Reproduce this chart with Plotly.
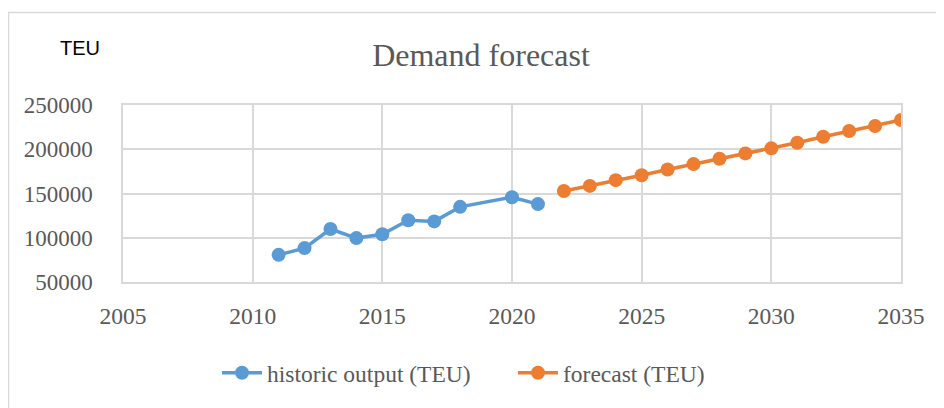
import plotly.graph_objects as go

# ---- data ----
hist_years = [2011, 2012, 2013, 2014, 2015, 2016, 2017, 2018, 2020, 2021]
hist_teu = [80700, 88300, 109900, 99600, 104000, 119700, 118500, 134900, 145800, 138000]

fc_years = [2022, 2023, 2024, 2025, 2026, 2027, 2028, 2029, 2030, 2031, 2032, 2033, 2034, 2035]
fc_teu = [152900, 158600, 165100, 170700, 177200, 183200, 189200, 195300, 201000, 207300, 214100, 220600, 226200, 233000]

x_ticks = [2005, 2010, 2015, 2020, 2025, 2030, 2035]
y_ticks = [50000, 100000, 150000, 200000, 250000]

title_text = "Demand forecast"
unit_text = "TEU"
hist_name = "historic output (TEU)"
fc_name = "forecast (TEU)"

# ---- layout geometry (pixels, in page coordinates; page body has 8px margin) ----
OFF = 8
W, H = 944, 408
L, R, T, B = 123 - OFF, 901 - OFF, 105 - OFF, 282 - OFF
pw, ph = R - L, B - T

def px_x(p):
    return (p - OFF - L) / pw

def px_y(p):
    return (B - (p - OFF)) / ph

GRAY = "#595959"
GRID = "#d9d9d9"
SERIF = "Liberation Serif, Times New Roman, serif"

fig = go.Figure()
fig.add_trace(go.Scatter(
    x=hist_years, y=hist_teu, name=hist_name, mode="lines+markers",
    line=dict(color="#5b9bd5", width=3.5),
    marker=dict(color="#5b9bd5", size=14),
))
fig.add_trace(go.Scatter(
    x=fc_years, y=fc_teu, name=fc_name, mode="lines+markers",
    line=dict(color="#ed7d31", width=3.5),
    marker=dict(color="#ed7d31", size=14),
))

fig.update_layout(
    width=W, height=H,
    margin=dict(l=L, r=W - R, t=T, b=H - B, autoexpand=False),
    paper_bgcolor="white", plot_bgcolor="white",
    font=dict(family=SERIF, size=23, color=GRAY),
    title=dict(text=title_text, x=(481 - OFF) / W, xanchor="center", xref="container",
               y=1 - (55 - OFF) / H, yanchor="middle", yref="container",
               font=dict(family=SERIF, size=32, color=GRAY)),
    showlegend=True,
    legend=dict(orientation="h", x=px_x(217), xanchor="left",
                y=px_y(373), yanchor="middle",
                font=dict(family=SERIF, size=23.5, color=GRAY),
                itemwidth=40, tracegroupgap=0, entrywidth=241,
                bgcolor="rgba(0,0,0,0)"),
    xaxis=dict(range=[2005, 2035], tickmode="array", tickvals=x_ticks,
               ticktext=[str(v) for v in x_ticks],
               showgrid=True, gridcolor=GRID, gridwidth=1.5,
               showline=True, mirror=True, linecolor=GRID, linewidth=1.5,
               zeroline=False, ticks="", ticklabelstandoff=12,
               tickfont=dict(family=SERIF, size=23.5, color=GRAY)),
    yaxis=dict(range=[50000, 250000], tickmode="array", tickvals=y_ticks,
               ticktext=[str(v) for v in y_ticks],
               showgrid=True, gridcolor=GRID, gridwidth=1.5,
               showline=True, mirror=True, linecolor=GRID, linewidth=1.5,
               zeroline=False, ticks="", ticklabelstandoff=24,
               tickfont=dict(family=SERIF, size=23, color=GRAY)),
    annotations=[dict(text=unit_text, xref="paper", yref="paper",
                      x=px_x(80), y=px_y(48), xanchor="center", yanchor="middle",
                      showarrow=False,
                      font=dict(family="Liberation Sans, Arial, sans-serif", size=20, color="black"))],
    shapes=[dict(type="rect", xref="paper", yref="paper",
                 x0=px_x(8.5), x1=px_x(960), y0=px_y(420), y1=px_y(12.5),
                 line=dict(color=GRID, width=1.5), fillcolor="rgba(0,0,0,0)", layer="below")],
)

fig.write_html("out.html")
